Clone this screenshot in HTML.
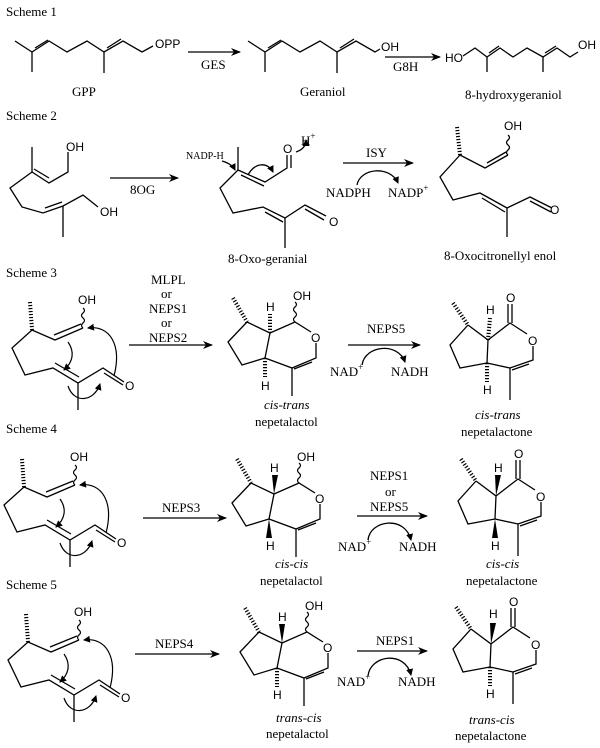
<!DOCTYPE html>
<html><head><meta charset="utf-8"><style>
html,body{margin:0;padding:0;background:#fff}
svg{display:block}
</style></head><body>
<svg width="600" height="748" viewBox="0 0 600 748" xmlns="http://www.w3.org/2000/svg">
<defs>
<marker id="ah" markerWidth="10" markerHeight="8" refX="9" refY="4" orient="auto" markerUnits="userSpaceOnUse"><path d="M0,0 L10,4 L0,8 L3,4 Z" fill="#000"/></marker>
<marker id="ch" markerWidth="7" markerHeight="7" refX="6" refY="3.5" orient="auto" markerUnits="userSpaceOnUse"><path d="M0,0 L7,3.5 L0,7 Z" fill="#000"/></marker>
<g id="lol">
<line x1="233" y1="298" x2="247" y2="322" stroke="#000" stroke-width="4" stroke-dasharray="1.2 1.8"/>
<polyline points="247,322 270,333 265,358 242,365 228,342 247,322" fill="none" stroke="#000" stroke-width="1.3"/>
<polyline points="270,333 295,322 311,332" fill="none" stroke="#000" stroke-width="1.3"/>
<polyline points="316,343 316,358 292,368 265,358" fill="none" stroke="#000" stroke-width="1.3"/>
<line x1="312" y1="362" x2="294" y2="369" stroke="#000" stroke-width="1.3"/>
<line x1="292" y1="368" x2="292" y2="396" stroke="#000" stroke-width="1.3"/>
<path d="M295,322 q-3,-2.5 0,-5 q3,-2.5 0,-5 q-3,-2.5 0,-5 q3,-2.5 0,-5" fill="none" stroke="#000" stroke-width="1.2"/>
<text font-family="'Liberation Sans', sans-serif" font-size="12" x="293" y="300">OH</text>
<text font-family="'Liberation Sans', sans-serif" font-size="12" x="311" y="342">O</text>
</g>
<g id="lone">
<line x1="453" y1="303" x2="468" y2="325" stroke="#000" stroke-width="4" stroke-dasharray="1.2 1.8"/>
<polyline points="468,325 488,340 487,363 460,368 450,345 468,325" fill="none" stroke="#000" stroke-width="1.3"/>
<polyline points="488,340 510,323 527,334" fill="none" stroke="#000" stroke-width="1.3"/>
<line x1="508" y1="323" x2="508" y2="304" stroke="#000" stroke-width="1.3"/>
<line x1="512" y1="323" x2="512" y2="304" stroke="#000" stroke-width="1.3"/>
<polyline points="533,346 533,360 510,368 487,363" fill="none" stroke="#000" stroke-width="1.3"/>
<line x1="529" y1="364" x2="512" y2="370" stroke="#000" stroke-width="1.3"/>
<line x1="510" y1="368" x2="510" y2="400" stroke="#000" stroke-width="1.3"/>
<text font-family="'Liberation Sans', sans-serif" font-size="12" x="506" y="302">O</text>
<text font-family="'Liberation Sans', sans-serif" font-size="12" x="528" y="345">O</text>
</g>
<g id="sub">
<line x1="30" y1="302" x2="32" y2="330" stroke="#000" stroke-width="4" stroke-dasharray="1.2 1.8"/>
<polyline points="83,328 55,340 32,330 12,348 25,375 53,368 78,383 103,368 124,382" fill="none" stroke="#000" stroke-width="1.3"/>
<line x1="54" y1="335" x2="81" y2="324" stroke="#000" stroke-width="1.3"/>
<line x1="55" y1="363" x2="79" y2="377" stroke="#000" stroke-width="1.3"/>
<line x1="104" y1="373" x2="123" y2="385" stroke="#000" stroke-width="1.3"/>
<line x1="78" y1="383" x2="78" y2="410" stroke="#000" stroke-width="1.3"/>
<path d="M83,328 q-3,-2.5 0,-5 q3,-2.5 0,-5 q-3,-2.5 0,-5 q3,-2.5 0,-5" fill="none" stroke="#000" stroke-width="1.2"/>
<text font-family="'Liberation Sans', sans-serif" font-size="12" x="78" y="304">OH</text>
<text font-family="'Liberation Sans', sans-serif" font-size="12" x="125" y="390">O</text>
<path d="M114,376 C122,345 110,325 88,328" fill="none" stroke="#000" stroke-width="1.2" marker-end="url(#ch)"/>
<path d="M68,342 C75,352 73,362 64,370" fill="none" stroke="#000" stroke-width="1.2" marker-end="url(#ch)"/>
<path d="M68,386 C74,404 94,402 100,384" fill="none" stroke="#000" stroke-width="1.2" marker-end="url(#ch)"/>
</g>
</defs>
<g stroke="#000" stroke-width="1.3" fill="none">
<polyline points="15,41 32,52 49,41 67,52 87,41 104,52 123,41 142,52 153,46"/>
<line x1="35" y1="48" x2="48" y2="40"/><line x1="107" y1="48" x2="121" y2="39"/>
<line x1="32" y1="52" x2="32" y2="72"/><line x1="104" y1="52" x2="104" y2="73"/>
<polyline points="248,41 265,52 282,41 300,52 320,41 337,52 356,41 375,52 380,49"/>
<line x1="268" y1="48" x2="281" y2="40"/><line x1="340" y1="48" x2="354" y2="39"/>
<line x1="265" y1="52" x2="265" y2="72"/><line x1="337" y1="52" x2="337" y2="73"/>
<polyline points="463,56 475,48 487,57 500,48 513,57 527,48 543,57 557,48 570,57 578,52"/>
<line x1="489" y1="53" x2="499" y2="46"/><line x1="545" y1="53" x2="556" y2="46"/>
<line x1="487" y1="57" x2="487" y2="72"/><line x1="543" y1="57" x2="543" y2="72"/>
<line x1="188" y1="52" x2="240" y2="52" marker-end="url(#ah)"/>
<line x1="385" y1="57" x2="440" y2="57" marker-end="url(#ah)"/>
<polyline points="68,152 68,172 49,183 32,172 10,188 22,207 43,213 63,206 83,195 98,207"/>
<line x1="32" y1="172" x2="32" y2="147"/>
<line x1="49" y1="178" x2="34" y2="169"/>
<line x1="45" y1="208" x2="62" y2="202"/>
<line x1="63" y1="206" x2="63" y2="237"/>
<line x1="110" y1="178" x2="178" y2="178" marker-end="url(#ah)"/>
<line x1="238" y1="170" x2="238" y2="147"/>
<polyline points="238,170 265,182 287,168 287,155"/>
<line x1="241" y1="175" x2="264" y2="186"/>
<line x1="291" y1="168" x2="291" y2="155"/>
<polyline points="238,170 220,188 233,213 263,207 285,218 305,205 326,216"/>
<line x1="265" y1="212" x2="283" y2="222"/>
<line x1="305" y1="209" x2="324" y2="220"/>
<line x1="285" y1="218" x2="285" y2="248"/>
<path d="M222,161 C229,163 233,166 235,170" marker-end="url(#ch)"/>
<path d="M248,175 C255,162 268,162 273,172" marker-end="url(#ch)"/>
<path d="M296,152 C302,150 306,146 306,140" marker-end="url(#ch)"/>
<line x1="343" y1="163" x2="413" y2="163" marker-end="url(#ah)"/>
<path d="M357,185 C360,168 390,165 398,183" marker-end="url(#ch)"/>
<line x1="457" y1="127" x2="460" y2="155" stroke-width="4" stroke-dasharray="1.2 1.8"/>
<polyline points="460,155 485,168 508,155"/>
<line x1="487" y1="163" x2="506" y2="152"/>
<path d="M508,155 q-3,-2.5 0,-5 q3,-2.5 0,-5 q-3,-2.5 0,-5 q3,-2.5 0,-5"/>
<polyline points="460,155 440,177 453,200 480,193 507,208 530,197 552,208"/>
<line x1="482" y1="198" x2="505" y2="212"/>
<line x1="530" y1="201" x2="551" y2="212"/>
<line x1="507" y1="208" x2="507" y2="237"/>
<line x1="129" y1="345" x2="212" y2="345" marker-end="url(#ah)"/>
<line x1="348" y1="345" x2="420" y2="345" marker-end="url(#ah)"/>
<path d="M362,365 C365,345 398,342 405,362" marker-end="url(#ch)"/>
<line x1="143" y1="518" x2="226" y2="518" marker-end="url(#ah)"/>
<line x1="357" y1="516" x2="427" y2="516" marker-end="url(#ah)"/>
<path d="M368,540 C370,520 405,515 411,540" marker-end="url(#ch)"/>
<line x1="135" y1="654" x2="219" y2="654" marker-end="url(#ah)"/>
<line x1="357" y1="651" x2="427" y2="651" marker-end="url(#ah)"/>
<path d="M368,676 C370,655 405,650 411,675" marker-end="url(#ch)"/>
</g>
<use href="#sub"/>
<use href="#sub" transform="translate(-8,157)"/>
<use href="#sub" transform="translate(-4,312)"/>
<use href="#lol"/>
<use href="#lol" transform="translate(4,161)"/>
<use href="#lol" transform="translate(12,310)"/>
<use href="#lone"/>
<use href="#lone" transform="translate(8,156)"/>
<use href="#lone" transform="translate(3,304)"/>
<g stroke="#000" stroke-width="4" stroke-dasharray="1.2 1.8">
<line x1="270" y1="333" x2="270" y2="314"/><line x1="265" y1="358" x2="265" y2="377"/>
<line x1="488" y1="340" x2="490" y2="318"/><line x1="487" y1="363" x2="487" y2="382"/>
<line x1="277" y1="668" x2="277" y2="687"/>
<line x1="490" y1="667" x2="490" y2="686"/>
</g>
<g fill="#000">
<polygon points="274,494 272,475 278,475"/><polygon points="269,519 266,538 272,538"/>
<polygon points="496,496 495,475 501,475"/><polygon points="495,519 492,538 498,538"/>
<polygon points="282,643 279,624 285,624"/>
<polygon points="491,644 490,623 496,623"/>
</g>
<g font-family="'Liberation Sans', sans-serif" font-size="12" fill="#000">
<text x="266" y="311">H</text><text x="261" y="390">H</text>
<text x="486" y="314">H</text><text x="483" y="394">H</text>
<text x="270" y="472">H</text><text x="266" y="550">H</text>
<text x="494" y="472">H</text><text x="491" y="550">H</text>
<text x="278" y="621">H</text><text x="273" y="699">H</text>
<text x="489" y="618">H</text><text x="486" y="698">H</text>
<text x="155" y="48">OPP</text>
<text x="381" y="51">OH</text>
<text x="445" y="62">HO</text>
<text x="578" y="49">OH</text>
<text x="66" y="151">OH</text>
<text x="100" y="216">OH</text>
<text x="283" y="153">O</text>
<text x="329" y="226">O</text>
<text x="550" y="214">O</text>
<text x="504" y="130">OH</text>
</g>
<g font-family="'Liberation Serif', serif" font-size="13" fill="#000">
<text x="6" y="16">Scheme 1</text>
<text x="6" y="120">Scheme 2</text>
<text x="6" y="277">Scheme 3</text>
<text x="6" y="433">Scheme 4</text>
<text x="6" y="589">Scheme 5</text>
<text x="72" y="96">GPP</text>
<text x="201" y="69">GES</text>
<text x="300" y="96">Geraniol</text>
<text x="393" y="71">G8H</text>
<text x="465" y="99">8-hydroxygeraniol</text>
<text x="130" y="194">8OG</text>
<text x="228" y="263">8-Oxo-geranial</text>
<text x="366" y="157">ISY</text>
<text x="326" y="197">NADPH</text>
<text x="388" y="197">NADP<tspan dy="-6" font-size="9">+</tspan></text>
<text x="444" y="260">8-Oxocitronellyl enol</text>
<text x="151" y="284">MLPL</text>
<text x="161" y="298">or</text>
<text x="149" y="313">NEPS1</text>
<text x="161" y="327">or</text>
<text x="149" y="342">NEPS2</text>
<text x="367" y="333">NEPS5</text>
<text x="330" y="376">NAD<tspan dy="-6" font-size="9">+</tspan></text>
<text x="391" y="376">NADH</text>
<text font-style="italic" x="264" y="409">cis-trans</text>
<text x="255" y="426">nepetalactol</text>
<text font-style="italic" x="475" y="419">cis-trans</text>
<text x="461" y="436">nepetalactone</text>
<text x="162" y="512">NEPS3</text>
<text x="370" y="480">NEPS1</text>
<text x="385" y="496">or</text>
<text x="370" y="511">NEPS5</text>
<text x="338" y="551">NAD<tspan dy="-6" font-size="9">+</tspan></text>
<text x="399" y="551">NADH</text>
<text font-style="italic" x="275" y="568">cis-cis</text>
<text x="260" y="585">nepetalactol</text>
<text font-style="italic" x="486" y="568">cis-cis</text>
<text x="466" y="585">nepetalactone</text>
<text x="155" y="648">NEPS4</text>
<text x="376" y="645">NEPS1</text>
<text x="337" y="686">NAD<tspan dy="-6" font-size="9">+</tspan></text>
<text x="398" y="686">NADH</text>
<text font-style="italic" x="276" y="722">trans-cis</text>
<text x="266" y="738">nepetalactol</text>
<text font-style="italic" x="469" y="724">trans-cis</text>
<text x="455" y="740">nepetalactone</text>
<text x="186" y="159" font-size="10">NADP-H</text>
<text x="301" y="145">H<tspan dy="-6" font-size="9">+</tspan></text>
</g>
</svg>
</body></html>
